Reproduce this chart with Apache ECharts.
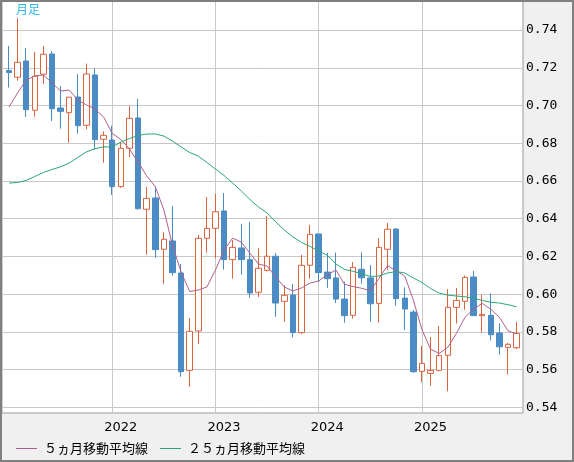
<!DOCTYPE html>
<html>
<head>
<meta charset="utf-8">
<script src="https://cdn.jsdelivr.net/npm/echarts@6/dist/echarts.min.js"></script>
<style>
html,body{margin:0;padding:0;background:#f0f0f0;}
#c{width:574px;height:462px;}
</style>
</head>
<body>
<div id="c"></div>
<script>
var months = ['2021-01','2021-02','2021-03','2021-04','2021-05','2021-06','2021-07','2021-08','2021-09','2021-10','2021-11','2021-12',
'2022-01','2022-02','2022-03','2022-04','2022-05','2022-06','2022-07','2022-08','2022-09','2022-10','2022-11','2022-12',
'2023-01','2023-02','2023-03','2023-04','2023-05','2023-06','2023-07','2023-08','2023-09','2023-10','2023-11','2023-12',
'2024-01','2024-02','2024-03','2024-04','2024-05','2024-06','2024-07','2024-08','2024-09','2024-10','2024-11','2024-12',
'2025-01','2025-02','2025-03','2025-04','2025-05','2025-06','2025-07','2025-08','2025-09','2025-10','2025-11','2025-12'];

var open = [0.7185,0.7150,0.7236,0.6975,0.7166,0.7273,0.6987,0.6962,0.7045,0.6895,0.7162,0.6821,
0.6817,0.6570,0.6773,0.6934,0.6450,0.6510,0.6238,0.6282,0.6112,0.5596,0.5805,0.6296,
0.6349,0.6441,0.6183,0.6245,0.6183,0.6010,0.6126,0.6201,0.5962,0.5995,0.5796,0.6153,
0.6319,0.6117,0.6086,0.5974,0.5888,0.6132,0.6086,0.5951,0.6238,0.6345,0.5979,0.5905,
0.5591,0.5580,0.5596,0.5676,0.5930,0.5962,0.6091,0.5886,0.5888,0.5794,0.5718,0.5716];

var close = [0.7175,0.7229,0.6978,0.7155,0.7272,0.6983,0.6969,0.7044,0.6893,0.7167,0.6819,0.6842,
0.6570,0.6773,0.6932,0.6453,0.6508,0.6236,0.6291,0.6114,0.5589,0.5803,0.6296,0.6349,
0.6437,0.6183,0.6248,0.6183,0.6006,0.6137,0.6201,0.5953,0.5994,0.5796,0.6153,0.6317,
0.6114,0.6082,0.5974,0.5886,0.6142,0.6087,0.5949,0.6248,0.6344,0.5976,0.5921,0.5589,
0.5633,0.5596,0.5674,0.5930,0.5967,0.6089,0.5886,0.5893,0.5785,0.5721,0.5734,0.5792];

var low = [0.7095,0.7132,0.6939,0.6941,0.7114,0.6918,0.6877,0.6803,0.6851,0.6874,0.6768,0.6697,
0.6526,0.6564,0.6726,0.6448,0.6209,0.6193,0.6055,0.6098,0.5562,0.5509,0.5736,0.6220,
0.6190,0.6130,0.6082,0.6103,0.5981,0.5985,0.6121,0.5880,0.5854,0.5771,0.5790,0.6082,
0.6063,0.6033,0.5953,0.5849,0.5870,0.6055,0.5854,0.5849,0.6128,0.5939,0.5810,0.5583,
0.5534,0.5515,0.5591,0.5485,0.5845,0.5917,0.5886,0.5796,0.5755,0.5679,0.5575,0.5708];

var high = [0.7316,0.7464,0.7305,0.7284,0.7316,0.7289,0.7104,0.7045,0.7167,0.7222,0.7197,0.6863,
0.6893,0.6805,0.6998,0.7035,0.6568,0.6572,0.6328,0.6467,0.6160,0.5873,0.6314,0.6515,
0.6531,0.6536,0.6287,0.6373,0.6383,0.6243,0.6414,0.6218,0.6047,0.6054,0.6208,0.6367,
0.6320,0.6220,0.6220,0.6066,0.6170,0.6222,0.6154,0.6296,0.6377,0.6351,0.6036,0.5916,
0.5725,0.5773,0.5831,0.6027,0.6033,0.6098,0.6123,0.5997,0.6004,0.5845,0.5741,0.5852];

var ma5 = [0.6992,0.7067,0.7135,0.7157,0.7162,0.7120,0.7077,0.7082,0.7029,0.7003,0.6981,0.6939,
0.6852,0.6820,0.6770,0.6701,0.6627,0.6570,0.6446,0.6261,0.6117,0.6014,0.6022,0.6038,
0.6128,0.6234,0.6297,0.6276,0.6218,0.6160,0.6149,0.6091,0.6038,0.6017,0.6033,0.6059,
0.6070,0.6103,0.6128,0.6052,0.6040,0.6031,0.6018,0.6084,0.6151,0.6124,0.6096,0.5969,
0.5812,0.5708,0.5686,0.5718,0.5792,0.5877,0.5921,0.5951,0.5920,0.5877,0.5806,0.5789];

var ma25 = [0.6589,0.6592,0.6603,0.6624,0.6645,0.6661,0.6675,0.6695,0.6725,0.6754,0.6771,0.6781,
0.6780,0.6806,0.6825,0.6841,0.6849,0.6849,0.6838,0.6812,0.6780,0.6751,0.6732,0.6698,
0.6663,0.6629,0.6589,0.6547,0.6502,0.6462,0.6430,0.6383,0.6340,0.6303,0.6274,0.6253,
0.6229,0.6206,0.6160,0.6131,0.6121,0.6108,0.6094,0.6096,0.6112,0.6120,0.6112,0.6086,
0.6062,0.6030,0.6006,0.5995,0.5990,0.5986,0.5978,0.5967,0.5957,0.5953,0.5944,0.5933];

var yearGridMonths = ['2022-01','2023-01','2024-01','2025-01'];
var yearLabelMonths = ['2022-02','2023-02','2024-02','2025-02'];
var yearLabels = ['2022','2023','2024','2025'];
var titleText = '月足';
var legendNames = ['５ヵ月移動平均線','２５ヵ月移動平均線'];

var gridIdx = yearGridMonths.map(function(m){return months.indexOf(m);});
var labelIdx = yearLabelMonths.map(function(m){return months.indexOf(m);});

var candleData = months.map(function(m,i){return [i, open[i], close[i], low[i], high[i]];});
var ma5Data = months.map(function(m,i){return [i, ma5[i]];});
var ma25Data = months.map(function(m,i){return [i, ma25[i]];});

var chart = echarts.init(document.getElementById('c'), null, {renderer:'canvas'});
chart.setOption({
  animation: false,
  backgroundColor: '#f0f0f0',
  title: {
    text: titleText, left: 16, top: 3, padding: 0,
    textStyle: {color:'#33b5ee', fontSize:12, fontWeight:'normal', fontFamily:'Noto Sans CJK JP'}
  },
  legend: {
    data: legendNames, left: 16, top: 437, itemWidth: 21, itemHeight: 1, itemGap: 12,
    icon: 'rect', padding: [5, 0, 5, 0],
    selectedMode: false,
    textStyle: {fontFamily:'Noto Sans CJK JP', fontSize:13, color:'#000', padding:[0,0,0,2]}
  },
  grid: {
    left: 2, right: 51, top: 1, bottom: 49, show: true,
    backgroundColor: '#ffffff', borderColor: '#9a9a9a', borderWidth: 1
  },
  xAxis: {
    type: 'value', min: -0.814, max: 59.744,
    axisLine: {show:false},
    axisTick: {show:false, customValues: gridIdx},
    splitLine: {show:true, lineStyle:{color:'#c8c8c8', width:1}},
    axisLabel: {
      customValues: labelIdx, margin: 8, color:'#000', fontSize: 13, fontFamily:'DejaVu Sans',
      formatter: function(v){ var k = labelIdx.indexOf(Math.round(v)); return k >= 0 ? yearLabels[k] : ''; }
    }
  },
  yAxis: {
    type: 'value', position: 'right', min: 0.537, max: 0.7554,
    minInterval: 0.02, maxInterval: 0.02, splitNumber: 10, scale: true,
    axisLine: {show:false}, axisTick: {show:false},
    splitLine: {show:true, lineStyle:{color:'#c8c8c8', width:1}},
    axisLabel: {
      margin: 3, color:'#000', fontSize: 13, fontFamily:'DejaVu Sans Mono',
      showMinLabel: false, showMaxLabel: false,
      formatter: function(v){ return Math.abs(v*50 - Math.round(v*50)) < 1e-6 ? v.toFixed(2) : ''; }
    }
  },
  series: [
    {
      name: 'candle', type: 'candlestick', data: candleData,
      encode: {x: 0, y: [1,2,3,4]},
      barWidth: 6,
      itemStyle: {color:'#ffffff', color0:'#4a8cc3', borderColor:'#d9633c', borderColor0:'#4a8cc3', borderWidth:1}
    },
    {
      name: legendNames[0], type: 'line', data: ma5Data, symbol: 'none', z: 3,
      lineStyle: {width:1, color:'#b0608f'}, itemStyle: {color:'#b0608f'}
    },
    {
      name: legendNames[1], type: 'line', data: ma25Data, symbol: 'none', z: 3,
      lineStyle: {width:1, color:'#2aa878'}, itemStyle: {color:'#2aa878'}
    }
  ],
  graphic: [
    {type:'rect', shape:{x:1, y:1, width:572, height:460}, style:{fill:'none', stroke:'#808080', lineWidth:2}, z:100, silent:true}
  ]
});
</script>
</body>
</html>
